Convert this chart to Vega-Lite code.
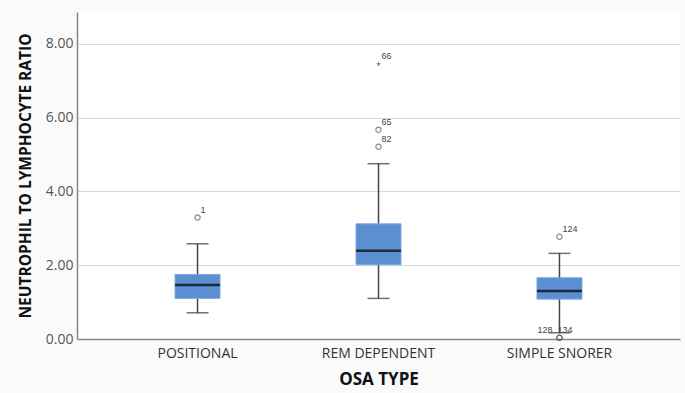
{
  "$schema": "https://vega.github.io/schema/vega-lite/v6.json",
  "autosize": {"type": "none"},
  "padding": {"left": 77, "top": 12, "right": 5, "bottom": 54},
  "width": 603,
  "height": 327,
  "background": "#fafafa",
  "view": {"fill": "#ffffff", "stroke": null},
  "config": {
    "font": "Open Sans",
    "axis": {"labelFont": "Open Sans", "titleFont": "Open Sans"}
  },
  "datasets": {
    "boxes": [
      {"type": "POSITIONAL", "lower": 0.71, "q1": 1.10, "median": 1.46, "q3": 1.75, "upper": 2.58},
      {"type": "REM DEPENDENT", "lower": 1.10, "q1": 2.01, "median": 2.39, "q3": 3.12, "upper": 4.75},
      {"type": "SIMPLE SNORER", "lower": 0.17, "q1": 1.08, "median": 1.30, "q3": 1.66, "upper": 2.32}
    ],
    "outliers": [
      {"type": "POSITIONAL", "value": 3.29, "id": "1", "kind": "circle"},
      {"type": "REM DEPENDENT", "value": 5.67, "id": "65", "kind": "circle"},
      {"type": "REM DEPENDENT", "value": 5.21, "id": "82", "kind": "circle"},
      {"type": "REM DEPENDENT", "value": 7.45, "id": "66", "kind": "star"},
      {"type": "SIMPLE SNORER", "value": 2.77, "id": "124", "kind": "circle"},
      {"type": "SIMPLE SNORER", "value": 0.035, "id": "128", "kind": "circle"},
      {"type": "SIMPLE SNORER", "value": 0.035, "id": "134", "kind": "circle"}
    ]
  },
  "encoding": {
    "x": {
      "field": "type", "type": "nominal",
      "scale": {"paddingInner": 0, "paddingOuter": 0.166},
      "axis": {
        "title": "OSA TYPE", "labelAngle": 0, "labelFontSize": 14, "labelColor": "#333333",
        "labelPadding": 7, "ticks": false, "domainColor": "#888888", "domainWidth": 1.5,
        "titleFontSize": 17, "titleFontWeight": "bold", "titleColor": "#111111", "titlePadding": 11
      }
    }
  },
  "layer": [
    {
      "data": {"name": "boxes"},
      "mark": {"type": "rule", "color": "#444444", "strokeWidth": 1.5},
      "encoding": {
        "y": {
          "field": "lower", "type": "quantitative",
          "scale": {"domain": [0, 8.86], "nice": false},
          "axis": {
            "title": "NEUTROPHIL TO LYMPHOCYTE RATIO", "values": [0, 2, 4, 6, 8], "format": ".2f",
            "labelFontSize": 14, "labelColor": "#555555", "labelPadding": 4, "ticks": false,
            "domainColor": "#888888", "domainWidth": 1.5,
            "grid": true, "gridColor": "#d9d9d9", "gridWidth": 1.2,
            "titleFontSize": 15.5, "titleFontWeight": "bold", "titleColor": "#111111", "titlePadding": 12
          }
        },
        "y2": {"field": "upper"}
      }
    },
    {
      "data": {"name": "boxes"},
      "mark": {"type": "tick", "color": "#333333", "size": 22, "thickness": 1.5},
      "encoding": {"y": {"field": "lower", "type": "quantitative"}}
    },
    {
      "data": {"name": "boxes"},
      "mark": {"type": "tick", "color": "#333333", "size": 22, "thickness": 1.5},
      "encoding": {"y": {"field": "upper", "type": "quantitative"}}
    },
    {
      "data": {"name": "boxes"},
      "mark": {"type": "bar", "size": 45, "fill": "#5a8fd1", "stroke": "#7ea9e0", "strokeWidth": 1},
      "encoding": {
        "y": {"field": "q1", "type": "quantitative"},
        "y2": {"field": "q3"}
      }
    },
    {
      "data": {"name": "boxes"},
      "mark": {"type": "tick", "color": "#000000", "size": 45, "thickness": 2.5},
      "encoding": {"y": {"field": "median", "type": "quantitative"}}
    },
    {
      "data": {"name": "outliers"},
      "transform": [{"filter": "datum.kind == 'circle'"}],
      "mark": {"type": "point", "shape": "circle", "size": 28, "filled": false, "stroke": "#555555", "strokeWidth": 1.2},
      "encoding": {"y": {"field": "value", "type": "quantitative"}}
    },
    {
      "data": {"name": "outliers"},
      "transform": [{"filter": "datum.kind == 'star'"}],
      "mark": {"type": "point", "shape": "M0,-1L0.22,-0.31L0.95,-0.31L0.36,0.12L0.59,0.81L0,0.38L-0.59,0.81L-0.36,0.12L-0.95,-0.31L-0.22,-0.31Z", "size": 30, "filled": true, "fill": "#444444", "strokeWidth": 0},
      "encoding": {"y": {"field": "value", "type": "quantitative"}}
    },
    {
      "data": {"name": "outliers"},
      "transform": [{"filter": "datum.id != '128' && datum.id != '134'"}],
      "mark": {"type": "text", "align": "left", "baseline": "middle", "dx": 3, "dy": -8, "fontSize": 9, "color": "#444444", "font": "Liberation Sans"},
      "encoding": {"y": {"field": "value", "type": "quantitative"}, "text": {"field": "id"}}
    },
    {
      "data": {"name": "outliers"},
      "transform": [{"filter": "datum.id == '128'"}],
      "mark": {"type": "text", "align": "right", "baseline": "middle", "dx": -7, "dy": -8, "fontSize": 9, "color": "#444444", "font": "Liberation Sans"},
      "encoding": {"y": {"field": "value", "type": "quantitative"}, "text": {"field": "id"}}
    },
    {
      "data": {"name": "outliers"},
      "transform": [{"filter": "datum.id == '134'"}],
      "mark": {"type": "text", "align": "left", "baseline": "middle", "dx": -2, "dy": -8, "fontSize": 9, "color": "#444444", "font": "Liberation Sans"},
      "encoding": {"y": {"field": "value", "type": "quantitative"}, "text": {"field": "id"}}
    }
  ]
}
